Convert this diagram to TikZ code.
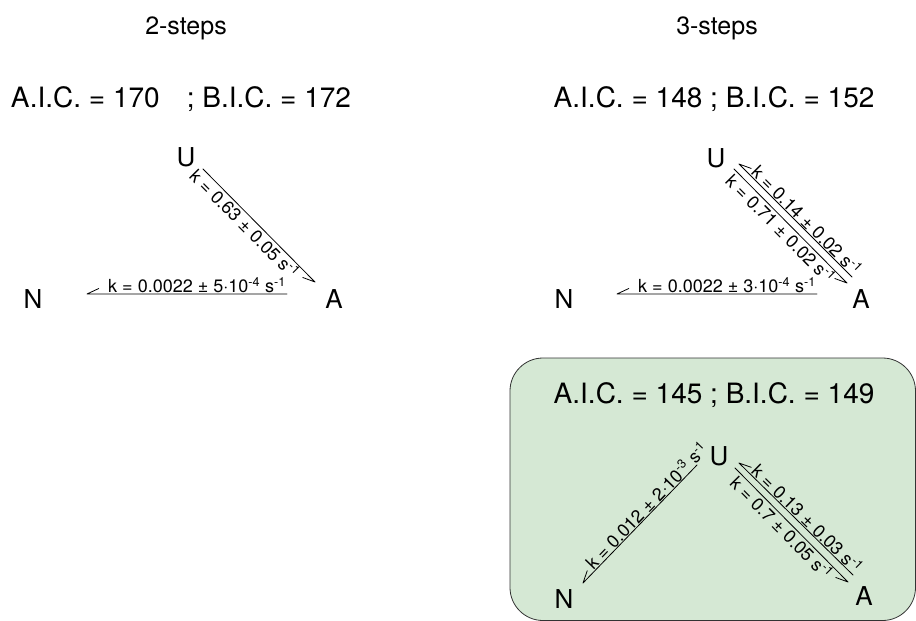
\documentclass[tikz,border=0pt]{standalone}
\usepackage{fontspec}
\setmainfont{TeX Gyre Heros}
\usetikzlibrary{calc}

\definecolor{modelgreen}{RGB}{213,232,212}
\tikzset{
  species/.style={font=\fontsize{26}{30}\selectfont, inner sep=0pt},
  heading/.style={font=\fontsize{25}{30}\selectfont, inner sep=0pt},
  score/.style={font=\fontsize{28}{32}\selectfont, inner sep=0pt},
  rate/.style={font=\fontsize{18}{21}\selectfont, inner sep=0.4pt, sloped},
  % straight line ending in a one-sided barb (harpoon)
  harp/.style={line width=0.8pt, line cap=round,
    to path={-- (\tikztotarget) \tikztonodes
      ($(\tikztotarget)!13pt!25:(\tikztostart)$) -- (\tikztotarget)}},
  modelbox/.style={draw=black!80, line width=0.8pt, fill=modelgreen,
    rounded corners=33pt}
}
\newcommand{\inv}{\textsuperscript{-1}}

\begin{document}
\begin{tikzpicture}[x=1pt,y=1pt]
\useasboundingbox (0,0) rectangle (916,-621);
\clip (0,0) rectangle (916,-621);

% highlighted three-step model
\path[modelbox] (510,-358) rectangle (915.5,-620.5);

% column headings
\node[heading] (h2) at (186,-28) {2-steps};
\node[heading] (h3) at (717,-28) {3-steps};

% information criteria
\node[score] (s2) at (181,-99) {A.I.C. = 170\hspace{27pt}; B.I.C. = 172};
\node[score] (s3) at (714,-99) {A.I.C. = 148 ; B.I.C. = 152};
\node[score] (s3b) at (714,-395) {A.I.C. = 145 ; B.I.C. = 149};

% two-step scheme
\node[species] (U1) at (186,-157) {U};
\node[species] (N1) at (33,-299) {N};
\node[species] (A1) at (334,-299) {A};
\draw[harp] ($(A1)+(-47,5)$) to
  node[rate, pos=0.45, above] {k = 0.0022 ± 5·10\textsuperscript{-4} s\inv}
  ($(N1)+(54,5)$);
\draw[harp] ($(U1)+(17,-12)$) to
  node[rate, pos=0.43, below] {k = 0.63 ± 0.05 s\inv}
  ($(A1)+(-19,17)$);

% three-step scheme, linear
\node[species] (U2) at (716,-158) {U};
\node[species] (N2) at (564,-299) {N};
\node[species] (A2) at (861,-299) {A};
\draw[harp] ($(A2)+(-44,5)$) to
  node[rate, pos=0.45, above] {k = 0.0022 ± 3·10\textsuperscript{-4} s\inv}
  ($(N2)+(53,5)$);
\draw[harp] ($(A2)+(-9,22)$) to
  node[rate, pos=0.45, above] {k = 0.14 ± 0.02 s\inv}
  ($(U2)+(23,-6)$);
\draw[harp] ($(U2)+(18,-11)$) to
  node[rate, pos=0.47, below] {k = 0.71 ± 0.02 s\inv}
  ($(A2)+(-14,16)$);

% three-step scheme, branched
\node[species] (U3) at (719,-456) {U};
\node[species] (N3) at (564,-599) {N};
\node[species] (A3) at (864,-596) {A};
\draw[harp] ($(U3)+(-22,-9)$) to
  node[rate, pos=0.39, above] {k = 0.012 ± 2·10\textsuperscript{-3} s\inv}
  ($(N3)+(19,16)$);
\draw[harp] ($(A3)+(-11,21)$) to
  node[rate, pos=0.45, above] {k = 0.13 ± 0.03 s\inv}
  ($(U3)+(20,-7)$);
\draw[harp] ($(U3)+(16,-12)$) to
  node[rate, pos=0.47, below] {k = 0.7 ± 0.05 s\inv}
  ($(A3)+(-16,14)$);
\end{tikzpicture}
\end{document}
